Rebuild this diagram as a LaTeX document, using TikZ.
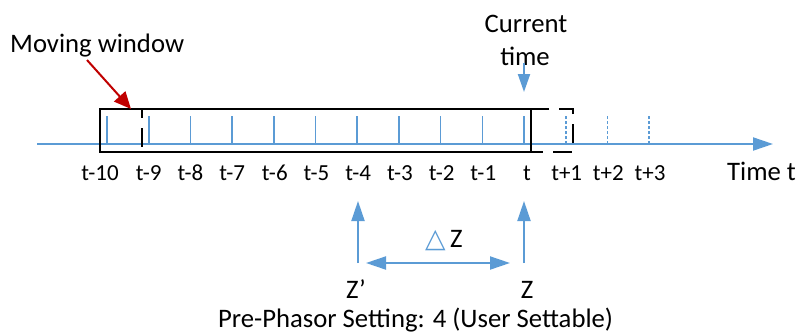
\documentclass[tikz,border=0pt]{standalone}
\usepackage{fontspec}
\setmainfont{Carlito}
\newfontfamily\symfont{DejaVu Sans}
\usetikzlibrary{arrows.meta}
\definecolor{axisblue}{HTML}{5B9BD5}
\definecolor{markred}{HTML}{C00000}

\begin{document}
\begin{tikzpicture}[x=1pt,y=-1pt,
  big/.style={font=\fontsize{26.7}{33}\selectfont, inner sep=0pt},
  ticklbl/.style={font=\fontsize{23}{27}\selectfont, inner sep=0pt, anchor=base},
  axisline/.style={axisblue, line width=2pt, -{Triangle[length=20pt,width=13pt]}},
  pasttick/.style={axisblue, line width=1.6pt},
  futuretick/.style={axisblue, line width=1.6pt, dash pattern=on 3pt off 2pt},
  bluearrow/.style={axisblue, line width=2pt, -{Triangle[length=20pt,width=13pt]}},
  bluedouble/.style={axisblue, line width=2pt, {Triangle[length=20pt,width=13pt]}-{Triangle[length=20pt,width=13pt]}},
  winsolid/.style={black, line width=1.2pt},
  windashed/.style={black, line width=1.2pt, dash pattern=on 19pt off 10pt, dash phase=10pt},
  redarrow/.style={markred, line width=2pt, -{Triangle[length=17pt,width=15pt]}},
]
\useasboundingbox (0,0) rectangle (796,333);

% time axis
\coordinate (axstart) at (37,144);
\coordinate (axend) at (773,144);
\draw[axisline] (axstart) -- (axend);

% past and present samples
\foreach \k in {0,...,10}{
  \pgfmathsetmacro{\xx}{107+41.7*\k}
  \coordinate (tb\k) at (\xx,144);
  \coordinate (tt\k) at (\xx,116);
  \draw[pasttick] (tb\k) -- (tt\k);
}
% future samples
\foreach \k in {11,12,13}{
  \pgfmathsetmacro{\xx}{107+41.7*\k}
  \coordinate (tb\k) at (\xx,144);
  \coordinate (tt\k) at (\xx,116);
  \draw[futuretick] (tb\k) -- (tt\k);
}

% sample labels
\node[ticklbl] (l0) at (100,180) {t-10};
\node[ticklbl] (l1) at (148.7,180) {t-9};
\node[ticklbl] (l2) at (190.4,180) {t-8};
\node[ticklbl] (l3) at (232.1,180) {t-7};
\node[ticklbl] (l4) at (274.8,180) {t-6};
\node[ticklbl] (l5) at (316.5,180) {t-5};
\node[ticklbl] (l6) at (358.2,180) {t-4};
\node[ticklbl] (l7) at (399.9,180) {t-3};
\node[ticklbl] (l8) at (441.6,180) {t-2};
\node[ticklbl] (l9) at (483.3,180) {t-1};
\node[ticklbl] (l10) at (527,180) {t};
\node[ticklbl] (l11) at (566.7,180) {t+1};
\node[ticklbl] (l12) at (608.4,180) {t+2};
\node[ticklbl] (l13) at (650.1,180) {t+3};
\node[big, anchor=base west] (timet) at (727,180) {Time t};

% current and next window
\coordinate (wa) at (100,109);
\coordinate (wb) at (531,152);
\coordinate (va) at (142,109);
\coordinate (vb) at (573,152);
\draw[winsolid] (wa) rectangle (wb);
\draw[windashed] (va) rectangle (vb);

% moving window callout
\node[big, anchor=base west] (mw) at (10,52) {Moving window};
\coordinate (mwtail) at (87,60);
\coordinate (mwtip) at (131,109);
\draw[redarrow] (mwtail) -- (mwtip);

% current time marker
\node[big, anchor=base] (cur1) at (526,32) {Current};
\node[big, anchor=base] (cur2) at (525,65) {time};
\coordinate (cta) at (524,63);
\coordinate (ctb) at (524,92);
\draw[axisblue, line width=2pt, -{Triangle[length=18pt,width=12pt]}] (cta) -- (ctb);

% phasor references
\coordinate (zpa) at (358,263);
\coordinate (zpb) at (358,201);
\coordinate (za) at (524,263);
\coordinate (zb) at (524,201);
\draw[bluearrow] (zpa) -- (zpb);
\draw[bluearrow] (za) -- (zb);
\coordinate (dl) at (366,263);
\coordinate (dr) at (510,263);
\draw[bluedouble] (dl) -- (dr);
\node[big, anchor=base west] (dz) at (425,247) {{\symfont\color{axisblue}△}\,Z};
\node[big, anchor=base] (zp) at (356,298) {Z’};
\node[big, anchor=base] (z) at (527,298) {Z};

\node[big, anchor=base] (setting) at (415.5,327) {Pre-Phasor Setting: 4 (User Settable)};
\end{tikzpicture}
\end{document}
